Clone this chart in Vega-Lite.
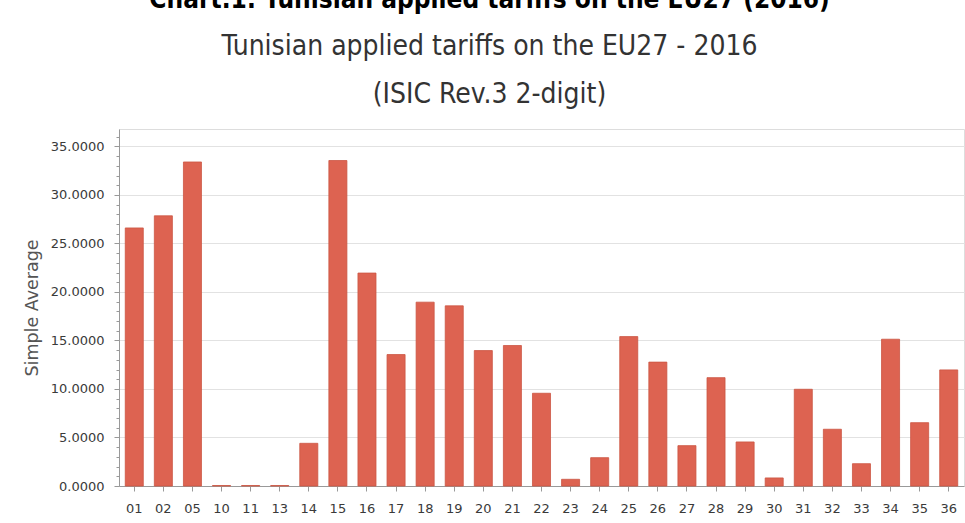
{
  "$schema": "https://vega.github.io/schema/vega-lite/v6.json",
  "width": 845,
  "height": 357,
  "autosize": {"type": "none"},
  "padding": {"left": 119, "top": 129, "right": 1, "bottom": 37},
  "background": "white",
  "title": {
    "text": "Chart.1: Tunisian applied tariffs on the EU27 (2016)",
    "subtitle": ["Tunisian applied tariffs on the EU27 - 2016", "(ISIC Rev.3 2-digit)"],
    "anchor": "middle",
    "dx": -52,
    "offset": 20,
    "font": "DejaVu Sans Condensed",
    "fontSize": 26,
    "fontWeight": "bold",
    "color": "#000000",
    "subtitleFont": "DejaVu Sans Condensed",
    "subtitleFontSize": 28,
    "subtitleColor": "#333333",
    "subtitleLineHeight": 48,
    "subtitlePadding": 20
  },
  "config": {
    "view": {"stroke": "#dddddd", "strokeWidth": 1},
    "axis": {
      "labelFont": "DejaVu Sans",
      "labelFontSize": 13,
      "labelColor": "#3a3a3a",
      "domainColor": "#999999",
      "tickColor": "#999999"
    }
  },
  "data": {
    "values": [
      {"code": "01", "avg": 26.6},
      {"code": "02", "avg": 27.85},
      {"code": "05", "avg": 33.4},
      {"code": "10", "avg": 0.05},
      {"code": "11", "avg": 0.05},
      {"code": "13", "avg": 0.05},
      {"code": "14", "avg": 4.4},
      {"code": "15", "avg": 33.55},
      {"code": "16", "avg": 21.95},
      {"code": "17", "avg": 13.55},
      {"code": "18", "avg": 18.95},
      {"code": "19", "avg": 18.57},
      {"code": "20", "avg": 13.96},
      {"code": "21", "avg": 14.48},
      {"code": "22", "avg": 9.56},
      {"code": "23", "avg": 0.69},
      {"code": "24", "avg": 2.92},
      {"code": "25", "avg": 15.4},
      {"code": "26", "avg": 12.77},
      {"code": "27", "avg": 4.16},
      {"code": "28", "avg": 11.17},
      {"code": "29", "avg": 4.54},
      {"code": "30", "avg": 0.83},
      {"code": "31", "avg": 9.97},
      {"code": "32", "avg": 5.85},
      {"code": "33", "avg": 2.3},
      {"code": "34", "avg": 15.13},
      {"code": "35", "avg": 6.53},
      {"code": "36", "avg": 11.97}
    ]
  },
  "layer": [
    {
      "mark": {"type": "bar", "color": "#DD6351", "stroke": "#CC5542", "strokeWidth": 0.8},
      "encoding": {
        "x": {
          "field": "code",
          "type": "ordinal",
          "sort": null,
          "scale": {"paddingInner": 0.38, "paddingOuter": 0.215},
          "axis": {"title": null, "labelAngle": 0, "labelPadding": 11, "tickSize": 5, "grid": false}
        },
        "y": {
          "field": "avg",
          "type": "quantitative",
          "scale": {"domain": [0, 36.8], "nice": false},
          "axis": {
            "title": "Simple Average",
            "titleFont": "DejaVu Sans",
            "titleFontSize": 17.5,
            "titleFontWeight": "normal",
            "titleColor": "#555555",
            "titlePadding": 9,
            "values": [0, 5, 10, 15, 20, 25, 30, 35],
            "format": ".4f",
            "tickSize": 5,
            "labelPadding": 10,
            "grid": true,
            "gridColor": "#e2e2e2"
          }
        }
      }
    },
    {
      "mark": {"type": "tick", "opacity": 0},
      "encoding": {
        "y": {
          "field": "avg",
          "type": "quantitative",
          "axis": {
            "orient": "left",
            "title": null,
            "labels": false,
            "grid": false,
            "domain": false,
            "tickSize": 3,
            "values": [1,2,3,4,6,7,8,9,11,12,13,14,16,17,18,19,21,22,23,24,26,27,28,29,31,32,33,34,36]
          }
        }
      }
    }
  ],
  "resolve": {"axis": {"y": "independent"}}
}
